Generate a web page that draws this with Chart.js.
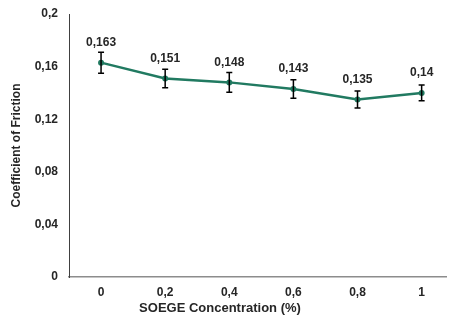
<!DOCTYPE html>
<html>
<head>
<meta charset="utf-8">
<script src="https://cdn.jsdelivr.net/npm/chart.js@4/dist/chart.umd.min.js"></script>
<style>
html,body{margin:0;padding:0;background:#fff;overflow:hidden;}
#wrap{position:relative;width:449px;height:320px;}
#xt{position:absolute;left:0;width:440px;text-align:center;top:300px;font:bold 13px "Liberation Sans",Arial,sans-serif;color:#262626;white-space:nowrap;}
</style>
</head>
<body>
<div id="wrap">
<canvas id="c" width="449" height="320"></canvas>
<div id="xt">SOEGE Concentration (%)</div>
</div>
<script>
const concentrations = [0, 0.2, 0.4, 0.6, 0.8, 1];
const friction = [0.163, 0.151, 0.148, 0.143, 0.135, 0.14];
const errors = [0.008, 0.007, 0.0075, 0.007, 0.0065, 0.006];
const yTicks = [0, 0.04, 0.08, 0.12, 0.16, 0.2];
const xTitle = "SOEGE Concentration (%)";
const yTitle = "Coefficient of Friction";

document.getElementById('xt').textContent = xTitle;
const comma = v => String(Math.round(v*1000)/1000).replace('.', ',');
const FONT = '"Liberation Sans", Arial, sans-serif';
const TXT = '#262626';

const extras = {
  id: 'extras',
  afterDatasetsDraw(chart) {
    const ctx = chart.ctx;
    const xs = chart.scales.x, ys = chart.scales.y;
    ctx.save();
    ctx.strokeStyle = '#000';
    ctx.lineWidth = 1.5;
    concentrations.forEach((c, i) => {
      const x = xs.getPixelForValue(c);
      const yt = ys.getPixelForValue(friction[i] + errors[i]);
      const yb = ys.getPixelForValue(friction[i] - errors[i]);
      ctx.beginPath();
      ctx.moveTo(x, yt); ctx.lineTo(x, yb);
      ctx.moveTo(x - 3, yt); ctx.lineTo(x + 3, yt);
      ctx.moveTo(x - 3, yb); ctx.lineTo(x + 3, yb);
      ctx.stroke();
    });
    ctx.fillStyle = TXT;
    ctx.font = 'bold 12px ' + FONT;
    ctx.textAlign = 'center';
    ctx.textBaseline = 'middle';
    concentrations.forEach((c, i) => {
      const x = xs.getPixelForValue(c);
      const y = ys.getPixelForValue(friction[i]);
      ctx.fillText(comma(friction[i]), x, y - 20);
    });
    ctx.restore();
  }
};

new Chart(document.getElementById('c'), {
  type: 'line',
  data: {
    datasets: [{
      data: concentrations.map((c, i) => ({x: c, y: friction[i]})),
      borderColor: '#217A61',
      backgroundColor: '#217A61',
      borderWidth: 2.5,
      pointRadius: 3,
      pointHoverRadius: 3,
      pointBorderWidth: 0,
      tension: 0
    }]
  },
  options: {
    responsive: false,
    animation: false,
    events: [],
    layout: {padding: {top: 14, right: 0, bottom: 0, left: 0}},
    plugins: {legend: {display: false}, tooltip: {enabled: false}},
    scales: {
      x: {
        type: 'linear',
        min: -0.1,
        max: 1.076,
        afterBuildTicks: s => { s.ticks = concentrations.map(v => ({value: v})); },
        afterFit: s => { s.height = 43; s.paddingLeft = 0; s.paddingRight = 0; },
        grid: {display: false, drawTicks: false},
        border: {display: true, color: '#8c8c8c', width: 1.5},
        ticks: {
          padding: 8,
          color: TXT,
          font: {family: FONT, size: 12, weight: 'bold'},
          callback: v => comma(v),
          maxRotation: 0,
          autoSkip: false
        }
      },
      y: {
        min: 0,
        max: 0.2,
        afterBuildTicks: s => { s.ticks = yTicks.map(v => ({value: v})); },
        afterFit: s => { s.width = 69; s.paddingTop = 7; s.paddingBottom = 0; },
        grid: {display: false, drawTicks: false},
        border: {display: true, color: '#404040', width: 1},
        title: {
          display: true,
          text: yTitle,
          color: TXT,
          font: {family: FONT, size: 12, weight: 'bold'},
          padding: {top: 9, bottom: 0}
        },
        ticks: {
          padding: 11,
          color: TXT,
          font: {family: FONT, size: 12, weight: 'bold'},
          callback: v => comma(v)
        }
      }
    }
  },
  plugins: [extras]
});
</script>
</body>
</html>
